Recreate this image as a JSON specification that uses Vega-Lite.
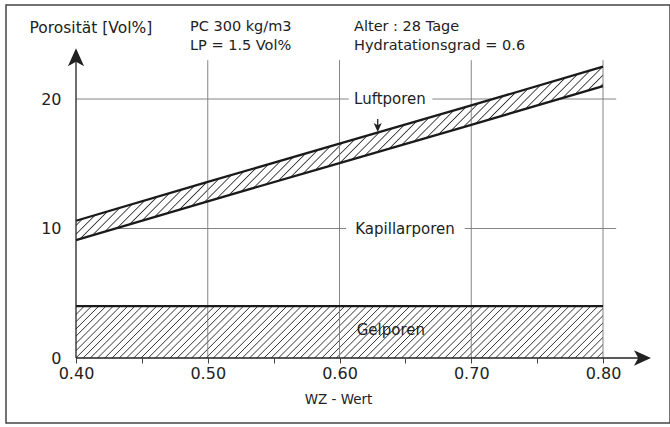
{
  "$schema": "https://vega.github.io/schema/vega-lite/v6.json",
  "width": 664,
  "height": 418,
  "autosize": {"type": "none"},
  "padding": {"left": 6, "top": 5, "right": 0, "bottom": 4},
  "background": "white",
  "config": {
    "view": {"stroke": "#444", "strokeWidth": 1.5},
    "font": "DejaVu Sans",
    "axis": {"labelFont": "DejaVu Sans", "titleFont": "DejaVu Sans", "labelColor": "#222", "titleColor": "#222", "titleFontWeight": "normal", "grid": false, "domain": false}
  },
  "datasets": {
    "band": [
      {"x": 0.4, "y": 9.1, "y2": 10.6},
      {"x": 0.5, "y": 12.1, "y2": 13.6},
      {"x": 0.6, "y": 15.05, "y2": 16.55},
      {"x": 0.7, "y": 18.0, "y2": 19.5},
      {"x": 0.8, "y": 21.0, "y2": 22.5}
    ],
    "gelarea": [
      {"x": 0.4, "y": 4.0, "y0": 0},
      {"x": 0.8, "y": 4.0, "y0": 0}
    ],
    "lines": [
      {"s": "Kapillarporen", "x": 0.4, "y": 9.1},
      {"s": "Kapillarporen", "x": 0.5, "y": 12.1},
      {"s": "Kapillarporen", "x": 0.6, "y": 15.05},
      {"s": "Kapillarporen", "x": 0.7, "y": 18.0},
      {"s": "Kapillarporen", "x": 0.8, "y": 21.0},
      {"s": "Luftporen", "x": 0.4, "y": 10.6},
      {"s": "Luftporen", "x": 0.5, "y": 13.6},
      {"s": "Luftporen", "x": 0.6, "y": 16.55},
      {"s": "Luftporen", "x": 0.7, "y": 19.5},
      {"s": "Luftporen", "x": 0.8, "y": 22.5},
      {"s": "Gelporen", "x": 0.4, "y": 4.0},
      {"s": "Gelporen", "x": 0.8, "y": 4.0}
    ],
    "hgrid": [
      {"x": 0.4, "x2": 0.607, "y": 20},
      {"x": 0.6705, "x2": 0.81, "y": 20},
      {"x": 0.4, "x2": 0.605, "y": 10},
      {"x": 0.695, "x2": 0.81, "y": 10}
    ],
    "vgrid": [
      {"x": 0.5, "y": 0, "y2": 23},
      {"x": 0.6, "y": 0, "y2": 23},
      {"x": 0.7, "y": 0, "y2": 23},
      {"x": 0.8, "y": 0, "y2": 23}
    ],
    "axislines": [
      {"x": 0.4, "x2": 0.83, "y": 0, "y2": 0},
      {"x": 0.4, "x2": 0.4, "y": 0, "y2": 23.5}
    ],
    "xarrow": [{"x": 0.8364, "y": 0}],
    "yarrow": [{"x": 0.4, "y": 23.92}],
    "pointer": [{"x": 0.629, "y": 18.46, "y2": 17.7}],
    "pointerhead": [{"x": 0.629, "y": 17.45}],
    "labels": [
      {"x": 0.6383, "y": 20, "text": "Luftporen"},
      {"x": 0.6497, "y": 10, "text": "Kapillarporen"},
      {"x": 0.639, "y": 2.16, "text": "Gelporen"}
    ],
    "notes": [
      {"x": 0.4865, "y": 25.56, "text": "PC 300 kg/m3"},
      {"x": 0.4865, "y": 24.09, "text": "LP = 1.5 Vol%"},
      {"x": 0.611, "y": 25.56, "text": "Alter : 28 Tage"},
      {"x": 0.611, "y": 24.09, "text": "Hydratationsgrad = 0.6"}
    ]
  },
  "encoding": {
    "x": {
      "field": "x", "type": "quantitative",
      "scale": {"domain": [0.34687, 0.85085], "nice": false, "zero": false},
      "axis": {
        "values": [0.4, 0.45, 0.5, 0.55, 0.6, 0.65, 0.7, 0.75, 0.8],
        "labelExpr": "round(datum.value*100) % 10 == 0 ? format(datum.value, '.2f') : ''",
        "offset": -65, "tickSize": 5, "tickColor": "#444", "tickWidth": 1,
        "labelFontSize": 16, "labelPadding": 2, "labelFlush": false, "labelOverlap": false,
        "title": "WZ - Wert", "titleFontSize": 13.5, "titlePadding": 11
      }
    },
    "y": {
      "field": "y", "type": "quantitative",
      "scale": {"domain": [-5.019, 27.259], "nice": false, "zero": false},
      "axis": {
        "values": [0, 10, 20], "offset": -70, "ticks": false,
        "labelFontSize": 16, "labelPadding": 15,
        "title": "Porosität [Vol%]", "titleFontSize": 15.5, "titleAngle": 0,
        "titleX": -47, "titleY": 22, "titleAlign": "left", "titleBaseline": "middle"
      }
    }
  },
  "layer": [
    {
      "data": {"name": "hgrid"},
      "mark": {"type": "rule", "color": "#777", "strokeWidth": 0.9},
      "encoding": {"x2": {"field": "x2"}}
    },
    {
      "data": {"name": "gelarea"},
      "mark": {
        "type": "area", "opacity": 1,
        "fill": {"gradient": "linear", "x1": 0, "y1": 0, "x2": 1.0878, "y2": 0.1069, "stops": [
{"offset":0.0,"color":"#fff"},{"offset":0.00175,"color":"#333"},{"offset":0.0035,"color":"#fff"},{"offset":0.0125,"color":"#fff"},{"offset":0.01425,"color":"#333"},{"offset":0.016,"color":"#fff"},{"offset":0.025,"color":"#fff"},{"offset":0.02675,"color":"#333"},{"offset":0.0285,"color":"#fff"},{"offset":0.0375,"color":"#fff"},{"offset":0.03925,"color":"#333"},{"offset":0.041,"color":"#fff"},{"offset":0.05,"color":"#fff"},{"offset":0.05175,"color":"#333"},{"offset":0.0535,"color":"#fff"},{"offset":0.0625,"color":"#fff"},{"offset":0.06425,"color":"#333"},{"offset":0.066,"color":"#fff"},{"offset":0.075,"color":"#fff"},{"offset":0.07675,"color":"#333"},{"offset":0.0785,"color":"#fff"},{"offset":0.0875,"color":"#fff"},{"offset":0.08925,"color":"#333"},{"offset":0.091,"color":"#fff"},
{"offset":0.1,"color":"#fff"},{"offset":0.10175,"color":"#333"},{"offset":0.1035,"color":"#fff"},{"offset":0.1125,"color":"#fff"},{"offset":0.11425,"color":"#333"},{"offset":0.116,"color":"#fff"},{"offset":0.125,"color":"#fff"},{"offset":0.12675,"color":"#333"},{"offset":0.1285,"color":"#fff"},{"offset":0.1375,"color":"#fff"},{"offset":0.13925,"color":"#333"},{"offset":0.141,"color":"#fff"},{"offset":0.15,"color":"#fff"},{"offset":0.15175,"color":"#333"},{"offset":0.1535,"color":"#fff"},{"offset":0.1625,"color":"#fff"},{"offset":0.16425,"color":"#333"},{"offset":0.166,"color":"#fff"},{"offset":0.175,"color":"#fff"},{"offset":0.17675,"color":"#333"},{"offset":0.1785,"color":"#fff"},{"offset":0.1875,"color":"#fff"},{"offset":0.18925,"color":"#333"},{"offset":0.191,"color":"#fff"},
{"offset":0.2,"color":"#fff"},{"offset":0.20175,"color":"#333"},{"offset":0.2035,"color":"#fff"},{"offset":0.2125,"color":"#fff"},{"offset":0.21425,"color":"#333"},{"offset":0.216,"color":"#fff"},{"offset":0.225,"color":"#fff"},{"offset":0.22675,"color":"#333"},{"offset":0.2285,"color":"#fff"},{"offset":0.2375,"color":"#fff"},{"offset":0.23925,"color":"#333"},{"offset":0.241,"color":"#fff"},{"offset":0.25,"color":"#fff"},{"offset":0.25175,"color":"#333"},{"offset":0.2535,"color":"#fff"},{"offset":0.2625,"color":"#fff"},{"offset":0.26425,"color":"#333"},{"offset":0.266,"color":"#fff"},{"offset":0.275,"color":"#fff"},{"offset":0.27675,"color":"#333"},{"offset":0.2785,"color":"#fff"},{"offset":0.2875,"color":"#fff"},{"offset":0.28925,"color":"#333"},{"offset":0.291,"color":"#fff"},
{"offset":0.3,"color":"#fff"},{"offset":0.30175,"color":"#333"},{"offset":0.3035,"color":"#fff"},{"offset":0.3125,"color":"#fff"},{"offset":0.31425,"color":"#333"},{"offset":0.316,"color":"#fff"},{"offset":0.325,"color":"#fff"},{"offset":0.32675,"color":"#333"},{"offset":0.3285,"color":"#fff"},{"offset":0.3375,"color":"#fff"},{"offset":0.33925,"color":"#333"},{"offset":0.341,"color":"#fff"},{"offset":0.35,"color":"#fff"},{"offset":0.35175,"color":"#333"},{"offset":0.3535,"color":"#fff"},{"offset":0.3625,"color":"#fff"},{"offset":0.36425,"color":"#333"},{"offset":0.366,"color":"#fff"},{"offset":0.375,"color":"#fff"},{"offset":0.37675,"color":"#333"},{"offset":0.3785,"color":"#fff"},{"offset":0.3875,"color":"#fff"},{"offset":0.38925,"color":"#333"},{"offset":0.391,"color":"#fff"},
{"offset":0.4,"color":"#fff"},{"offset":0.40175,"color":"#333"},{"offset":0.4035,"color":"#fff"},{"offset":0.4125,"color":"#fff"},{"offset":0.41425,"color":"#333"},{"offset":0.416,"color":"#fff"},{"offset":0.425,"color":"#fff"},{"offset":0.42675,"color":"#333"},{"offset":0.4285,"color":"#fff"},{"offset":0.4375,"color":"#fff"},{"offset":0.43925,"color":"#333"},{"offset":0.441,"color":"#fff"},{"offset":0.45,"color":"#fff"},{"offset":0.45175,"color":"#333"},{"offset":0.4535,"color":"#fff"},{"offset":0.4625,"color":"#fff"},{"offset":0.46425,"color":"#333"},{"offset":0.466,"color":"#fff"},{"offset":0.475,"color":"#fff"},{"offset":0.47675,"color":"#333"},{"offset":0.4785,"color":"#fff"},{"offset":0.4875,"color":"#fff"},{"offset":0.48925,"color":"#333"},{"offset":0.491,"color":"#fff"},
{"offset":0.5,"color":"#fff"},{"offset":0.50175,"color":"#333"},{"offset":0.5035,"color":"#fff"},{"offset":0.5125,"color":"#fff"},{"offset":0.51425,"color":"#333"},{"offset":0.516,"color":"#fff"},{"offset":0.525,"color":"#fff"},{"offset":0.52675,"color":"#333"},{"offset":0.5285,"color":"#fff"},{"offset":0.5375,"color":"#fff"},{"offset":0.53925,"color":"#333"},{"offset":0.541,"color":"#fff"},{"offset":0.55,"color":"#fff"},{"offset":0.55175,"color":"#333"},{"offset":0.5535,"color":"#fff"},{"offset":0.5625,"color":"#fff"},{"offset":0.56425,"color":"#333"},{"offset":0.566,"color":"#fff"},{"offset":0.575,"color":"#fff"},{"offset":0.57675,"color":"#333"},{"offset":0.5785,"color":"#fff"},{"offset":0.5875,"color":"#fff"},{"offset":0.58925,"color":"#333"},{"offset":0.591,"color":"#fff"},
{"offset":0.6,"color":"#fff"},{"offset":0.60175,"color":"#333"},{"offset":0.6035,"color":"#fff"},{"offset":0.6125,"color":"#fff"},{"offset":0.61425,"color":"#333"},{"offset":0.616,"color":"#fff"},{"offset":0.625,"color":"#fff"},{"offset":0.62675,"color":"#333"},{"offset":0.6285,"color":"#fff"},{"offset":0.6375,"color":"#fff"},{"offset":0.63925,"color":"#333"},{"offset":0.641,"color":"#fff"},{"offset":0.65,"color":"#fff"},{"offset":0.65175,"color":"#333"},{"offset":0.6535,"color":"#fff"},{"offset":0.6625,"color":"#fff"},{"offset":0.66425,"color":"#333"},{"offset":0.666,"color":"#fff"},{"offset":0.675,"color":"#fff"},{"offset":0.67675,"color":"#333"},{"offset":0.6785,"color":"#fff"},{"offset":0.6875,"color":"#fff"},{"offset":0.68925,"color":"#333"},{"offset":0.691,"color":"#fff"},
{"offset":0.7,"color":"#fff"},{"offset":0.70175,"color":"#333"},{"offset":0.7035,"color":"#fff"},{"offset":0.7125,"color":"#fff"},{"offset":0.71425,"color":"#333"},{"offset":0.716,"color":"#fff"},{"offset":0.725,"color":"#fff"},{"offset":0.72675,"color":"#333"},{"offset":0.7285,"color":"#fff"},{"offset":0.7375,"color":"#fff"},{"offset":0.73925,"color":"#333"},{"offset":0.741,"color":"#fff"},{"offset":0.75,"color":"#fff"},{"offset":0.75175,"color":"#333"},{"offset":0.7535,"color":"#fff"},{"offset":0.7625,"color":"#fff"},{"offset":0.76425,"color":"#333"},{"offset":0.766,"color":"#fff"},{"offset":0.775,"color":"#fff"},{"offset":0.77675,"color":"#333"},{"offset":0.7785,"color":"#fff"},{"offset":0.7875,"color":"#fff"},{"offset":0.78925,"color":"#333"},{"offset":0.791,"color":"#fff"},
{"offset":0.8,"color":"#fff"},{"offset":0.80175,"color":"#333"},{"offset":0.8035,"color":"#fff"},{"offset":0.8125,"color":"#fff"},{"offset":0.81425,"color":"#333"},{"offset":0.816,"color":"#fff"},{"offset":0.825,"color":"#fff"},{"offset":0.82675,"color":"#333"},{"offset":0.8285,"color":"#fff"},{"offset":0.8375,"color":"#fff"},{"offset":0.83925,"color":"#333"},{"offset":0.841,"color":"#fff"},{"offset":0.85,"color":"#fff"},{"offset":0.85175,"color":"#333"},{"offset":0.8535,"color":"#fff"},{"offset":0.8625,"color":"#fff"},{"offset":0.86425,"color":"#333"},{"offset":0.866,"color":"#fff"},{"offset":0.875,"color":"#fff"},{"offset":0.87675,"color":"#333"},{"offset":0.8785,"color":"#fff"},{"offset":0.8875,"color":"#fff"},{"offset":0.88925,"color":"#333"},{"offset":0.891,"color":"#fff"},
{"offset":0.9,"color":"#fff"},{"offset":0.90175,"color":"#333"},{"offset":0.9035,"color":"#fff"},{"offset":0.9125,"color":"#fff"},{"offset":0.91425,"color":"#333"},{"offset":0.916,"color":"#fff"},{"offset":0.925,"color":"#fff"},{"offset":0.92675,"color":"#333"},{"offset":0.9285,"color":"#fff"},{"offset":0.9375,"color":"#fff"},{"offset":0.93925,"color":"#333"},{"offset":0.941,"color":"#fff"},{"offset":0.95,"color":"#fff"},{"offset":0.95175,"color":"#333"},{"offset":0.9535,"color":"#fff"},{"offset":0.9625,"color":"#fff"},{"offset":0.96425,"color":"#333"},{"offset":0.966,"color":"#fff"},{"offset":0.975,"color":"#fff"},{"offset":0.97675,"color":"#333"},{"offset":0.9785,"color":"#fff"},{"offset":0.9875,"color":"#fff"},{"offset":0.98925,"color":"#333"},{"offset":0.991,"color":"#fff"}
        ]}
      },
      "encoding": {"y2": {"field": "y0"}}
    },
    {
      "data": {"name": "band"},
      "mark": {
        "type": "area", "opacity": 1,
        "fill": {"gradient": "linear", "x1": 0, "y1": 0, "x2": 1.1993, "y2": 0.3951, "stops": [
{"offset":0.0,"color":"#fff"},{"offset":0.00175,"color":"#333"},{"offset":0.0035,"color":"#fff"},{"offset":0.0125,"color":"#fff"},{"offset":0.01425,"color":"#333"},{"offset":0.016,"color":"#fff"},{"offset":0.025,"color":"#fff"},{"offset":0.02675,"color":"#333"},{"offset":0.0285,"color":"#fff"},{"offset":0.0375,"color":"#fff"},{"offset":0.03925,"color":"#333"},{"offset":0.041,"color":"#fff"},{"offset":0.05,"color":"#fff"},{"offset":0.05175,"color":"#333"},{"offset":0.0535,"color":"#fff"},{"offset":0.0625,"color":"#fff"},{"offset":0.06425,"color":"#333"},{"offset":0.066,"color":"#fff"},{"offset":0.075,"color":"#fff"},{"offset":0.07675,"color":"#333"},{"offset":0.0785,"color":"#fff"},{"offset":0.0875,"color":"#fff"},{"offset":0.08925,"color":"#333"},{"offset":0.091,"color":"#fff"},
{"offset":0.1,"color":"#fff"},{"offset":0.10175,"color":"#333"},{"offset":0.1035,"color":"#fff"},{"offset":0.1125,"color":"#fff"},{"offset":0.11425,"color":"#333"},{"offset":0.116,"color":"#fff"},{"offset":0.125,"color":"#fff"},{"offset":0.12675,"color":"#333"},{"offset":0.1285,"color":"#fff"},{"offset":0.1375,"color":"#fff"},{"offset":0.13925,"color":"#333"},{"offset":0.141,"color":"#fff"},{"offset":0.15,"color":"#fff"},{"offset":0.15175,"color":"#333"},{"offset":0.1535,"color":"#fff"},{"offset":0.1625,"color":"#fff"},{"offset":0.16425,"color":"#333"},{"offset":0.166,"color":"#fff"},{"offset":0.175,"color":"#fff"},{"offset":0.17675,"color":"#333"},{"offset":0.1785,"color":"#fff"},{"offset":0.1875,"color":"#fff"},{"offset":0.18925,"color":"#333"},{"offset":0.191,"color":"#fff"},
{"offset":0.2,"color":"#fff"},{"offset":0.20175,"color":"#333"},{"offset":0.2035,"color":"#fff"},{"offset":0.2125,"color":"#fff"},{"offset":0.21425,"color":"#333"},{"offset":0.216,"color":"#fff"},{"offset":0.225,"color":"#fff"},{"offset":0.22675,"color":"#333"},{"offset":0.2285,"color":"#fff"},{"offset":0.2375,"color":"#fff"},{"offset":0.23925,"color":"#333"},{"offset":0.241,"color":"#fff"},{"offset":0.25,"color":"#fff"},{"offset":0.25175,"color":"#333"},{"offset":0.2535,"color":"#fff"},{"offset":0.2625,"color":"#fff"},{"offset":0.26425,"color":"#333"},{"offset":0.266,"color":"#fff"},{"offset":0.275,"color":"#fff"},{"offset":0.27675,"color":"#333"},{"offset":0.2785,"color":"#fff"},{"offset":0.2875,"color":"#fff"},{"offset":0.28925,"color":"#333"},{"offset":0.291,"color":"#fff"},
{"offset":0.3,"color":"#fff"},{"offset":0.30175,"color":"#333"},{"offset":0.3035,"color":"#fff"},{"offset":0.3125,"color":"#fff"},{"offset":0.31425,"color":"#333"},{"offset":0.316,"color":"#fff"},{"offset":0.325,"color":"#fff"},{"offset":0.32675,"color":"#333"},{"offset":0.3285,"color":"#fff"},{"offset":0.3375,"color":"#fff"},{"offset":0.33925,"color":"#333"},{"offset":0.341,"color":"#fff"},{"offset":0.35,"color":"#fff"},{"offset":0.35175,"color":"#333"},{"offset":0.3535,"color":"#fff"},{"offset":0.3625,"color":"#fff"},{"offset":0.36425,"color":"#333"},{"offset":0.366,"color":"#fff"},{"offset":0.375,"color":"#fff"},{"offset":0.37675,"color":"#333"},{"offset":0.3785,"color":"#fff"},{"offset":0.3875,"color":"#fff"},{"offset":0.38925,"color":"#333"},{"offset":0.391,"color":"#fff"},
{"offset":0.4,"color":"#fff"},{"offset":0.40175,"color":"#333"},{"offset":0.4035,"color":"#fff"},{"offset":0.4125,"color":"#fff"},{"offset":0.41425,"color":"#333"},{"offset":0.416,"color":"#fff"},{"offset":0.425,"color":"#fff"},{"offset":0.42675,"color":"#333"},{"offset":0.4285,"color":"#fff"},{"offset":0.4375,"color":"#fff"},{"offset":0.43925,"color":"#333"},{"offset":0.441,"color":"#fff"},{"offset":0.45,"color":"#fff"},{"offset":0.45175,"color":"#333"},{"offset":0.4535,"color":"#fff"},{"offset":0.4625,"color":"#fff"},{"offset":0.46425,"color":"#333"},{"offset":0.466,"color":"#fff"},{"offset":0.475,"color":"#fff"},{"offset":0.47675,"color":"#333"},{"offset":0.4785,"color":"#fff"},{"offset":0.4875,"color":"#fff"},{"offset":0.48925,"color":"#333"},{"offset":0.491,"color":"#fff"},
{"offset":0.5,"color":"#fff"},{"offset":0.50175,"color":"#333"},{"offset":0.5035,"color":"#fff"},{"offset":0.5125,"color":"#fff"},{"offset":0.51425,"color":"#333"},{"offset":0.516,"color":"#fff"},{"offset":0.525,"color":"#fff"},{"offset":0.52675,"color":"#333"},{"offset":0.5285,"color":"#fff"},{"offset":0.5375,"color":"#fff"},{"offset":0.53925,"color":"#333"},{"offset":0.541,"color":"#fff"},{"offset":0.55,"color":"#fff"},{"offset":0.55175,"color":"#333"},{"offset":0.5535,"color":"#fff"},{"offset":0.5625,"color":"#fff"},{"offset":0.56425,"color":"#333"},{"offset":0.566,"color":"#fff"},{"offset":0.575,"color":"#fff"},{"offset":0.57675,"color":"#333"},{"offset":0.5785,"color":"#fff"},{"offset":0.5875,"color":"#fff"},{"offset":0.58925,"color":"#333"},{"offset":0.591,"color":"#fff"},
{"offset":0.6,"color":"#fff"},{"offset":0.60175,"color":"#333"},{"offset":0.6035,"color":"#fff"},{"offset":0.6125,"color":"#fff"},{"offset":0.61425,"color":"#333"},{"offset":0.616,"color":"#fff"},{"offset":0.625,"color":"#fff"},{"offset":0.62675,"color":"#333"},{"offset":0.6285,"color":"#fff"},{"offset":0.6375,"color":"#fff"},{"offset":0.63925,"color":"#333"},{"offset":0.641,"color":"#fff"},{"offset":0.65,"color":"#fff"},{"offset":0.65175,"color":"#333"},{"offset":0.6535,"color":"#fff"},{"offset":0.6625,"color":"#fff"},{"offset":0.66425,"color":"#333"},{"offset":0.666,"color":"#fff"},{"offset":0.675,"color":"#fff"},{"offset":0.67675,"color":"#333"},{"offset":0.6785,"color":"#fff"},{"offset":0.6875,"color":"#fff"},{"offset":0.68925,"color":"#333"},{"offset":0.691,"color":"#fff"},
{"offset":0.7,"color":"#fff"},{"offset":0.70175,"color":"#333"},{"offset":0.7035,"color":"#fff"},{"offset":0.7125,"color":"#fff"},{"offset":0.71425,"color":"#333"},{"offset":0.716,"color":"#fff"},{"offset":0.725,"color":"#fff"},{"offset":0.72675,"color":"#333"},{"offset":0.7285,"color":"#fff"},{"offset":0.7375,"color":"#fff"},{"offset":0.73925,"color":"#333"},{"offset":0.741,"color":"#fff"},{"offset":0.75,"color":"#fff"},{"offset":0.75175,"color":"#333"},{"offset":0.7535,"color":"#fff"},{"offset":0.7625,"color":"#fff"},{"offset":0.76425,"color":"#333"},{"offset":0.766,"color":"#fff"},{"offset":0.775,"color":"#fff"},{"offset":0.77675,"color":"#333"},{"offset":0.7785,"color":"#fff"},{"offset":0.7875,"color":"#fff"},{"offset":0.78925,"color":"#333"},{"offset":0.791,"color":"#fff"},
{"offset":0.8,"color":"#fff"},{"offset":0.80175,"color":"#333"},{"offset":0.8035,"color":"#fff"},{"offset":0.8125,"color":"#fff"},{"offset":0.81425,"color":"#333"},{"offset":0.816,"color":"#fff"},{"offset":0.825,"color":"#fff"},{"offset":0.82675,"color":"#333"},{"offset":0.8285,"color":"#fff"},{"offset":0.8375,"color":"#fff"},{"offset":0.83925,"color":"#333"},{"offset":0.841,"color":"#fff"},{"offset":0.85,"color":"#fff"},{"offset":0.85175,"color":"#333"},{"offset":0.8535,"color":"#fff"},{"offset":0.8625,"color":"#fff"},{"offset":0.86425,"color":"#333"},{"offset":0.866,"color":"#fff"},{"offset":0.875,"color":"#fff"},{"offset":0.87675,"color":"#333"},{"offset":0.8785,"color":"#fff"},{"offset":0.8875,"color":"#fff"},{"offset":0.88925,"color":"#333"},{"offset":0.891,"color":"#fff"},
{"offset":0.9,"color":"#fff"},{"offset":0.90175,"color":"#333"},{"offset":0.9035,"color":"#fff"},{"offset":0.9125,"color":"#fff"},{"offset":0.91425,"color":"#333"},{"offset":0.916,"color":"#fff"},{"offset":0.925,"color":"#fff"},{"offset":0.92675,"color":"#333"},{"offset":0.9285,"color":"#fff"},{"offset":0.9375,"color":"#fff"},{"offset":0.93925,"color":"#333"},{"offset":0.941,"color":"#fff"},{"offset":0.95,"color":"#fff"},{"offset":0.95175,"color":"#333"},{"offset":0.9535,"color":"#fff"},{"offset":0.9625,"color":"#fff"},{"offset":0.96425,"color":"#333"},{"offset":0.966,"color":"#fff"},{"offset":0.975,"color":"#fff"},{"offset":0.97675,"color":"#333"},{"offset":0.9785,"color":"#fff"},{"offset":0.9875,"color":"#fff"},{"offset":0.98925,"color":"#333"},{"offset":0.991,"color":"#fff"}
        ]}
      },
      "encoding": {"y2": {"field": "y2"}}
    },
    {
      "data": {"name": "vgrid"},
      "mark": {"type": "rule", "color": "#777", "strokeWidth": 0.9},
      "encoding": {"y2": {"field": "y2"}}
    },
    {
      "data": {"name": "lines"},
      "mark": {"type": "line", "color": "#1a1a1a", "strokeWidth": 2.3},
      "encoding": {"detail": {"field": "s"}}
    },
    {
      "data": {"name": "axislines"},
      "mark": {"type": "rule", "color": "#222", "strokeWidth": 1.3},
      "encoding": {"x2": {"field": "x2"}, "y2": {"field": "y2"}}
    },
    {
      "data": {"name": "xarrow"},
      "mark": {"type": "point", "filled": true, "opacity": 1, "color": "#222", "strokeWidth": 0, "size": 289, "shape": "M0,0L-2,-0.9L-1.5,0L-2,0.9Z"}
    },
    {
      "data": {"name": "yarrow"},
      "mark": {"type": "point", "filled": true, "opacity": 1, "color": "#222", "strokeWidth": 0, "size": 324, "shape": "M0,0L-0.9,2L0,1.5L0.9,2Z"}
    },
    {
      "data": {"name": "pointer"},
      "mark": {"type": "rule", "color": "#222", "strokeWidth": 1.3},
      "encoding": {"y2": {"field": "y2"}}
    },
    {
      "data": {"name": "pointerhead"},
      "mark": {"type": "point", "filled": true, "opacity": 1, "color": "#222", "strokeWidth": 0, "size": 81, "shape": "M0,0L-0.9,-2L0,-1.5L0.9,-2Z"}
    },
    {
      "data": {"name": "labels"},
      "mark": {"type": "text", "align": "center", "baseline": "middle", "fontSize": 15, "font": "DejaVu Sans", "color": "#222"},
      "encoding": {"text": {"field": "text"}}
    },
    {
      "data": {"name": "notes"},
      "mark": {"type": "text", "align": "left", "baseline": "middle", "fontSize": 14.5, "font": "DejaVu Sans", "color": "#222"},
      "encoding": {"text": {"field": "text"}}
    }
  ]
}
